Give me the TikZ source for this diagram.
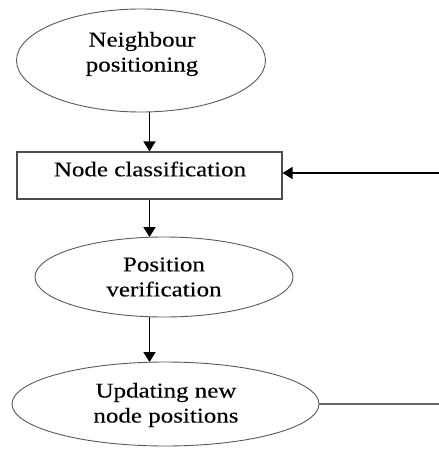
\documentclass[tikz,border=0pt]{standalone}
\usepackage{fontspec}
\setmainfont[FakeStretch=1.19,FakeBold=0.2]{Liberation Serif}
\usetikzlibrary{arrows.meta,calc,shapes.geometric}
\tikzset{
  ell/.style={draw=black!65, line width=0.9pt, ellipse, inner sep=0pt},
  boxnode/.style={draw=black!70, line width=1.2pt, rectangle, inner sep=0pt},
  txt/.style={align=center, inner sep=0pt, font=\fontsize{21}{25}\selectfont},
  arr/.style={draw=black, line width=1.8pt, -{Triangle[width=12pt,length=10pt]}},
  back/.style={draw=black!60, line width=1.4pt}
}
\begin{document}
\begin{tikzpicture}[x=1pt,y=-1pt]
\useasboundingbox (0,0) rectangle (439,450);
\node[ell, minimum width=249pt, minimum height=103pt] (nb) at (141,60.5) {};
\node[txt] (nbt) at (142,54) {Neighbour\\positioning};
\node[boxnode, minimum width=265pt, minimum height=47pt] (cls) at (149.5,175.5) {};
\node[txt] (clst) at (150,169) {Node classification};
\node[ell, minimum width=258pt, minimum height=80pt] (pv) at (164,277) {};
\node[txt] (pvt) at (164,277) {Position\\verification};
\node[ell, minimum width=307pt, minimum height=84pt] (up) at (165.5,404) {};
\node[txt] (upt) at (166,405) {Updating new\\node positions};
\draw[arr] (nb.south -| cls.center) -- (cls.north);
\draw[arr] (cls.south) -- ($(cls.south |- pv.north)+(0,0.5)$);
\draw[arr] (pv.south -| cls.center) -- ($(cls.center |- up.north)+(0,0.5)$);
\coordinate (corner) at (441,404);
\coordinate (clsin) at ($(cls.east)+(0,-2.5)$);
\coordinate (topcorner) at (441,173);
\draw[back] (up.east) -- (corner);
\draw[arr] (topcorner) -- (clsin);
\end{tikzpicture}
\end{document}
